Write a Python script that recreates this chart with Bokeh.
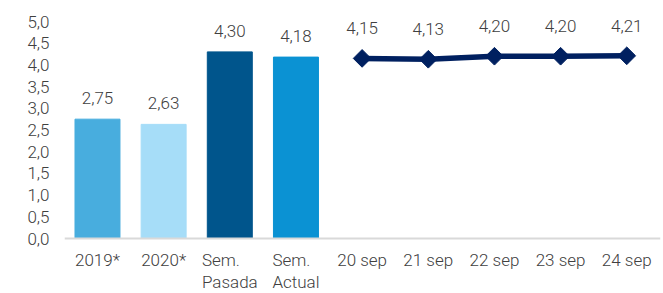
from bokeh.plotting import figure
from bokeh.models import Range1d, FixedTicker, ColumnDataSource, LabelSet, Span
from bokeh.embed import file_html
from bokeh.resources import INLINE
from bokeh.core.properties import value
import math

# ---- data ----
categories = ["2019*", "2020*", "Sem.\nPasada", "Sem.\nActual",
              "20 sep", "21 sep", "22 sep", "23 sep", "24 sep"]
bar_categories = ["2019*", "2020*", "Sem.\nPasada", "Sem.\nActual"]
bar_values = [2.75, 2.63, 4.30, 4.18]
bar_colors = ["#48ADDE", "#A6DDF8", "#00558C", "#0B92D3"]
line_categories = ["20 sep", "21 sep", "22 sep", "23 sep", "24 sep"]
line_values = [4.15, 4.13, 4.20, 4.20, 4.21]
y_ticks = [0, 0.5, 1, 1.5, 2, 2.5, 3, 3.5, 4, 4.5, 5]
y_tick_labels = ["0,0", "0,5", "1,0", "1,5", "2,0", "2,5", "3,0", "3,5", "4,0", "4,5", "5,0"]

def fmt(v):
    return f"{v:.2f}".replace(".", ",")

FONT_NAME = "Roboto Light"
FONT = value(FONT_NAME)
TXT = "#404040"

cat_x = list(range(len(categories)))
bar_x = [categories.index(c) for c in bar_categories]
line_x = [categories.index(c) for c in line_categories]

bar_src = ColumnDataSource(dict(x=bar_x, top=bar_values, color=bar_colors,
                                label=[fmt(v) for v in bar_values]))
line_src = ColumnDataSource(dict(x=line_x, y=line_values,
                                 label=[fmt(v) for v in line_values]))
cat_src = ColumnDataSource(dict(x=cat_x, y=[0] * len(cat_x), label=categories))

p = figure(width=663, height=293, x_range=Range1d(-0.4985, 8.51),
           y_range=Range1d(-1.267, 5.484), output_backend="svg",
           toolbar_location=None, x_axis_location=None,
           min_border_left=64, min_border_right=3, min_border_top=0,
           min_border_bottom=0)
p.outline_line_color = None
p.xgrid.visible = False
p.ygrid.visible = False
p.background_fill_color = "white"
p.border_fill_color = "white"

# category baseline
p.add_layout(Span(location=0, dimension="width", line_color="#D9D9D9",
                  line_width=2))

p.vbar(x="x", top="top", width=0.68, color="color", source=bar_src)
p.line(x="x", y="y", line_width=5.5, line_color="#002060", source=line_src)
p.scatter(x="x", y="y", marker="square", angle=math.pi / 4, size=12.5,
          fill_color="#002060", line_color="#002060", source=line_src)

# value labels
p.add_layout(LabelSet(x="x", y="top", text="label", source=bar_src,
                      y_offset=15, text_align="center", text_baseline="alphabetic",
                      text_font=FONT, text_font_size="17px", text_color=TXT))
p.add_layout(LabelSet(x="x", y="y", text="label", source=line_src,
                      y_offset=24, text_align="center", text_baseline="alphabetic",
                      text_font=FONT, text_font_size="17px", text_color=TXT))
# category labels
p.add_layout(LabelSet(x="x", y="y", text="label", source=cat_src,
                      y_offset=-11, text_align="center", text_baseline="top",
                      text_line_height=1.13,
                      text_font=FONT, text_font_size="17px", text_color=TXT))

# y axis
p.yaxis.ticker = FixedTicker(ticks=y_ticks)
p.yaxis.major_label_overrides = {t: l for t, l in zip(y_ticks, y_tick_labels)}
p.yaxis.axis_line_color = None
p.yaxis.major_tick_line_color = None
p.yaxis.minor_tick_line_color = None
p.yaxis.major_tick_in = 0
p.yaxis.major_tick_out = 0
p.yaxis.major_label_standoff = 15
p.yaxis.major_label_text_font = FONT_NAME
p.yaxis.major_label_text_font_size = "17px"
p.yaxis.major_label_text_color = TXT

open("out.html", "w").write(file_html(p, INLINE))
